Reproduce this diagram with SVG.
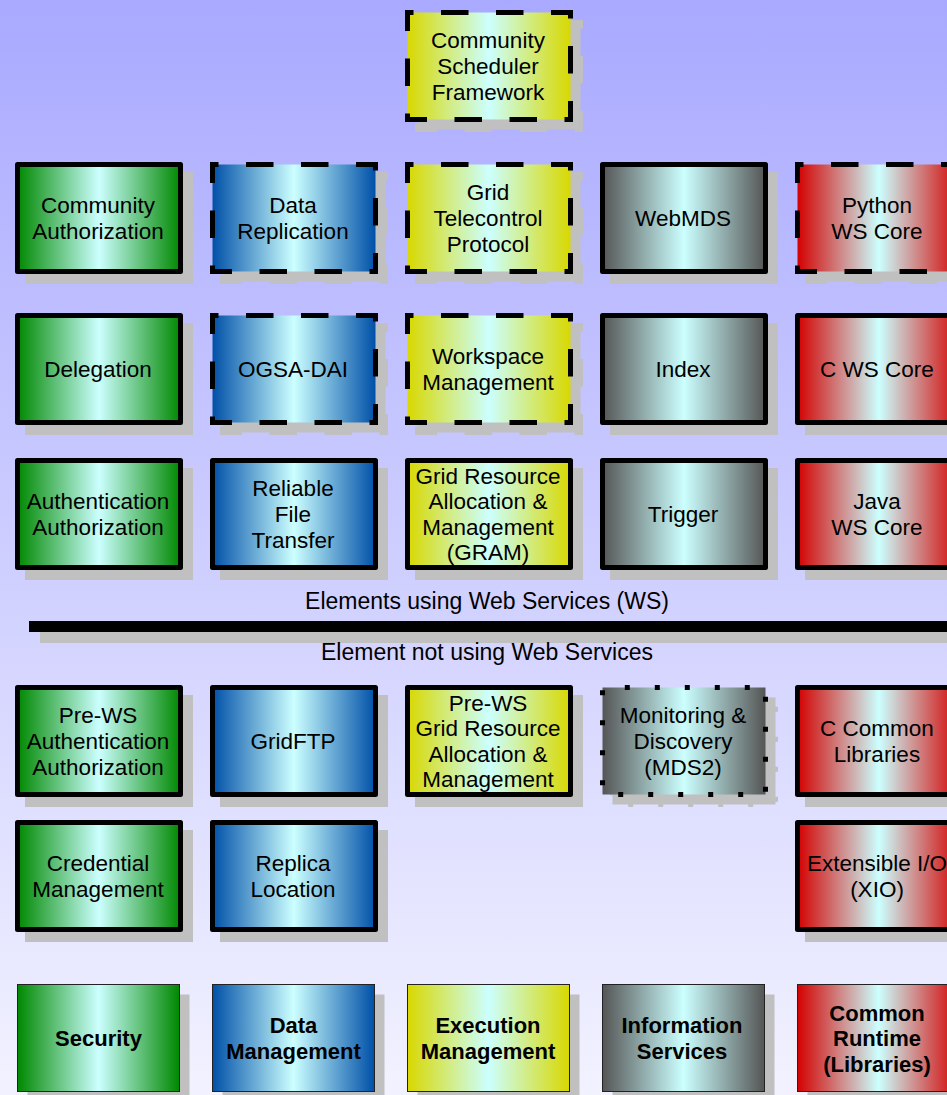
<svg xmlns="http://www.w3.org/2000/svg" xmlns:xlink="http://www.w3.org/1999/xlink" width="947" height="1095" viewBox="0 0 947 1095">
<defs>
<linearGradient id="bg" x1="0" y1="0" x2="0" y2="1"><stop offset="0" stop-color="#a9a9ff"/><stop offset="1" stop-color="#f2f2ff"/></linearGradient>
<linearGradient id="gGreen" x1="0" y1="0" x2="1" y2="0"><stop offset="0" stop-color="#008800"/><stop offset="0.5" stop-color="#ccffff"/><stop offset="1" stop-color="#008800"/></linearGradient>
<linearGradient id="gBlue" x1="0" y1="0" x2="1" y2="0"><stop offset="0" stop-color="#0050a8"/><stop offset="0.5" stop-color="#ccffff"/><stop offset="1" stop-color="#0050a8"/></linearGradient>
<linearGradient id="gYellow" x1="0" y1="0" x2="1" y2="0"><stop offset="0" stop-color="#d8d800"/><stop offset="0.5" stop-color="#ccffff"/><stop offset="1" stop-color="#d8d800"/></linearGradient>
<linearGradient id="gGray" x1="0" y1="0" x2="1" y2="0"><stop offset="0" stop-color="#555555"/><stop offset="0.5" stop-color="#ccffff"/><stop offset="1" stop-color="#555555"/></linearGradient>
<linearGradient id="gRed" x1="0" y1="0" x2="1" y2="0"><stop offset="0" stop-color="#d40000"/><stop offset="0.5" stop-color="#ccffff"/><stop offset="1" stop-color="#d40000"/></linearGradient>
<path id="dashB" d="M-2.5 0H163M163 -2.5V107M165.5 107H0M0 109.5V0"/>
<style>
.box{stroke:#000;stroke-width:5;stroke-linejoin:round}
.dashb{fill:none;stroke:#000;stroke-width:5;stroke-dasharray:27.5 27.5;stroke-dashoffset:19}
.dashs{fill:none;stroke:#c0c0c0;stroke-width:5;stroke-dasharray:27.5 27.5;stroke-dashoffset:19}
.dot{stroke-dasharray:5 25;stroke-dashoffset:7.7;stroke-linejoin:miter}
.sh{fill:#c0c0c0;stroke:#c0c0c0;stroke-width:5}
.lsh{fill:#c0c0c0}
.leg{stroke:#222;stroke-width:1}
.green{fill:url(#gGreen)}
.blue{fill:url(#gBlue)}
.yellow{fill:url(#gYellow)}
.gray{fill:url(#gGray)}
.red{fill:url(#gRed)}
text{font-family:"Liberation Sans",Arial,sans-serif;font-size:22.5px;text-anchor:middle;fill:#000}
.lt{font-weight:bold;font-size:22px}
.dv{font-size:23px}
</style>
</defs>
<rect x="0" y="0" width="947" height="1095" fill="url(#bg)"/>

<!-- Row 0 -->
<g id="community-scheduler-framework">
<rect class="lsh" x="417.5" y="22.5" width="163" height="107"/>
<use xlink:href="#dashB" class="dashs" x="417.5" y="22.5"/>
<rect class="yellow" x="407.5" y="12.5" width="163" height="107"/>
<use xlink:href="#dashB" class="dashb" x="407.5" y="12.5"/>
<text x="488" y="48.4">Community</text><text x="488" y="74">Scheduler</text><text x="488" y="99.6">Framework</text>
</g>

<!-- Row 1 -->
<g id="community-authorization">
<rect class="sh" x="27.5" y="174.5" width="163" height="107"/>
<rect class="box green" x="17.5" y="164.5" width="163" height="107"/>
<text x="98" y="213.2">Community</text><text x="98" y="238.8">Authorization</text>
</g>
<g id="data-replication">
<rect class="lsh" x="222.5" y="174.5" width="163" height="107"/>
<use xlink:href="#dashB" class="dashs" x="222.5" y="174.5"/>
<rect class="blue" x="212.5" y="164.5" width="163" height="107"/>
<use xlink:href="#dashB" class="dashb" x="212.5" y="164.5"/>
<text x="293" y="213.2">Data</text><text x="293" y="238.8">Replication</text>
</g>
<g id="grid-telecontrol-protocol">
<rect class="lsh" x="417.5" y="174.5" width="163" height="107"/>
<use xlink:href="#dashB" class="dashs" x="417.5" y="174.5"/>
<rect class="yellow" x="407.5" y="164.5" width="163" height="107"/>
<use xlink:href="#dashB" class="dashb" x="407.5" y="164.5"/>
<text x="488" y="200.4">Grid</text><text x="488" y="226">Telecontrol</text><text x="488" y="251.6">Protocol</text>
</g>
<g id="webmds">
<rect class="sh" x="612.5" y="174.5" width="163" height="107"/>
<rect class="box gray" x="602.5" y="164.5" width="163" height="107"/>
<text x="683" y="226">WebMDS</text>
</g>
<g id="python-ws-core">
<rect class="lsh" x="807.5" y="174.5" width="163" height="107"/>
<use xlink:href="#dashB" class="dashs" x="807.5" y="174.5"/>
<rect class="red" x="797.5" y="164.5" width="163" height="107"/>
<use xlink:href="#dashB" class="dashb" x="797.5" y="164.5"/>
<text x="877" y="213.2">Python</text><text x="877" y="238.8">WS Core</text>
</g>

<!-- Row 2 -->
<g id="delegation">
<rect class="sh" x="27.5" y="325.5" width="163" height="107"/>
<rect class="box green" x="17.5" y="315.5" width="163" height="107"/>
<text x="98" y="377">Delegation</text>
</g>
<g id="ogsa-dai">
<rect class="lsh" x="222.5" y="325.5" width="163" height="107"/>
<use xlink:href="#dashB" class="dashs" x="222.5" y="325.5"/>
<rect class="blue" x="212.5" y="315.5" width="163" height="107"/>
<use xlink:href="#dashB" class="dashb" x="212.5" y="315.5"/>
<text x="293" y="377">OGSA-DAI</text>
</g>
<g id="workspace-management">
<rect class="lsh" x="417.5" y="325.5" width="163" height="107"/>
<use xlink:href="#dashB" class="dashs" x="417.5" y="325.5"/>
<rect class="yellow" x="407.5" y="315.5" width="163" height="107"/>
<use xlink:href="#dashB" class="dashb" x="407.5" y="315.5"/>
<text x="488" y="364.2">Workspace</text><text x="488" y="389.8">Management</text>
</g>
<g id="index">
<rect class="sh" x="612.5" y="325.5" width="163" height="107"/>
<rect class="box gray" x="602.5" y="315.5" width="163" height="107"/>
<text x="683" y="377">Index</text>
</g>
<g id="c-ws-core">
<rect class="sh" x="807.5" y="325.5" width="163" height="107"/>
<rect class="box red" x="797.5" y="315.5" width="163" height="107"/>
<text x="877" y="377">C WS Core</text>
</g>

<!-- Row 3 -->
<g id="authentication-authorization">
<rect class="sh" x="27.5" y="470.5" width="163" height="107"/>
<rect class="box green" x="17.5" y="460.5" width="163" height="107"/>
<text x="98" y="509.2">Authentication</text><text x="98" y="534.8">Authorization</text>
</g>
<g id="reliable-file-transfer">
<rect class="sh" x="222.5" y="470.5" width="163" height="107"/>
<rect class="box blue" x="212.5" y="460.5" width="163" height="107"/>
<text x="293" y="496.4">Reliable</text><text x="293" y="522">File</text><text x="293" y="547.6">Transfer</text>
</g>
<g id="gram">
<rect class="sh" x="417.5" y="470.5" width="163" height="107"/>
<rect class="box yellow" x="407.5" y="460.5" width="163" height="107"/>
<text x="488" y="483.6">Grid Resource</text><text x="488" y="509.2">Allocation &amp;</text><text x="488" y="534.8">Management</text><text x="488" y="560.4">(GRAM)</text>
</g>
<g id="trigger">
<rect class="sh" x="612.5" y="470.5" width="163" height="107"/>
<rect class="box gray" x="602.5" y="460.5" width="163" height="107"/>
<text x="683" y="522">Trigger</text>
</g>
<g id="java-ws-core">
<rect class="sh" x="807.5" y="470.5" width="163" height="107"/>
<rect class="box red" x="797.5" y="460.5" width="163" height="107"/>
<text x="877" y="509.2">Java</text><text x="877" y="534.8">WS Core</text>
</g>

<!-- Divider -->
<g id="divider">
<text class="dv" x="487" y="609">Elements using Web Services (WS)</text>
<rect x="40" y="632" width="907" height="11" fill="#c0c0c0"/>
<rect x="29" y="621" width="918" height="11" fill="#000"/>
<text class="dv" x="487" y="660">Element not using Web Services</text>
</g>

<!-- Row 4 -->
<g id="pre-ws-authentication-authorization">
<rect class="sh" x="27.5" y="697.5" width="163" height="107"/>
<rect class="box green" x="17.5" y="687.5" width="163" height="107"/>
<text x="98" y="723.4">Pre-WS</text><text x="98" y="749">Authentication</text><text x="98" y="774.6">Authorization</text>
</g>
<g id="gridftp">
<rect class="sh" x="222.5" y="697.5" width="163" height="107"/>
<rect class="box blue" x="212.5" y="687.5" width="163" height="107"/>
<text x="293" y="749">GridFTP</text>
</g>
<g id="pre-ws-gram">
<rect class="sh" x="417.5" y="697.5" width="163" height="107"/>
<rect class="box yellow" x="407.5" y="687.5" width="163" height="107"/>
<text x="488" y="710.6">Pre-WS</text><text x="488" y="736.2">Grid Resource</text><text x="488" y="761.8">Allocation &amp;</text><text x="488" y="787.4">Management</text>
</g>
<g id="mds2">
<rect class="sh dot" x="612.5" y="697.5" width="163" height="107"/>
<rect class="box dot gray" x="602.5" y="687.5" width="163" height="107"/>
<text x="683" y="723.4">Monitoring &amp;</text><text x="683" y="749">Discovery</text><text x="683" y="774.6">(MDS2)</text>
</g>
<g id="c-common-libraries">
<rect class="sh" x="807.5" y="697.5" width="163" height="107"/>
<rect class="box red" x="797.5" y="687.5" width="163" height="107"/>
<text x="877" y="736.2">C Common</text><text x="877" y="761.8">Libraries</text>
</g>

<!-- Row 5 -->
<g id="credential-management">
<rect class="sh" x="27.5" y="832.5" width="163" height="107"/>
<rect class="box green" x="17.5" y="822.5" width="163" height="107"/>
<text x="98" y="871.2">Credential</text><text x="98" y="896.8">Management</text>
</g>
<g id="replica-location">
<rect class="sh" x="222.5" y="832.5" width="163" height="107"/>
<rect class="box blue" x="212.5" y="822.5" width="163" height="107"/>
<text x="293" y="871.2">Replica</text><text x="293" y="896.8">Location</text>
</g>
<g id="xio">
<rect class="sh" x="807.5" y="832.5" width="163" height="107"/>
<rect class="box red" x="797.5" y="822.5" width="163" height="107"/>
<text x="877" y="871.2">Extensible I/O</text><text x="877" y="896.8">(XIO)</text>
</g>

<!-- Legend -->
<g id="legend-security">
<rect class="lsh" x="27.5" y="994.5" width="162" height="107"/>
<rect class="leg green" x="17.5" y="984.5" width="162" height="107"/>
<text class="lt" x="98.5" y="1046">Security</text>
</g>
<g id="legend-data-management">
<rect class="lsh" x="222.5" y="994.5" width="162" height="107"/>
<rect class="leg blue" x="212.5" y="984.5" width="162" height="107"/>
<text class="lt" x="293.5" y="1032.5">Data</text><text class="lt" x="293.5" y="1058.5">Management</text>
</g>
<g id="legend-execution-management">
<rect class="lsh" x="417.5" y="994.5" width="162" height="107"/>
<rect class="leg yellow" x="407.5" y="984.5" width="162" height="107"/>
<text class="lt" x="488" y="1032.5">Execution</text><text class="lt" x="488" y="1058.5">Management</text>
</g>
<g id="legend-information-services">
<rect class="lsh" x="612.5" y="994.5" width="162" height="107"/>
<rect class="leg gray" x="602.5" y="984.5" width="162" height="107"/>
<text class="lt" x="682" y="1032.5">Information</text><text class="lt" x="682" y="1058.5">Services</text>
</g>
<g id="legend-common-runtime">
<rect class="lsh" x="807.5" y="994.5" width="162" height="107"/>
<rect class="leg red" x="797.5" y="984.5" width="162" height="107"/>
<text class="lt" x="877" y="1020.5">Common</text><text class="lt" x="877" y="1046">Runtime</text><text class="lt" x="877" y="1071.5">(Libraries)</text>
</g>
</svg>
